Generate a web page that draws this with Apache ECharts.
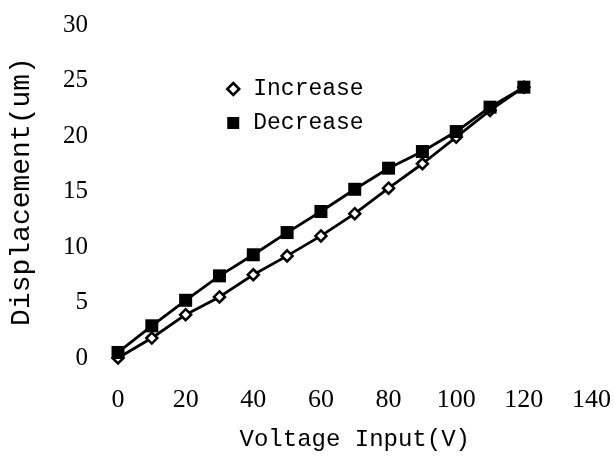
<!DOCTYPE html>
<html>
<head>
<meta charset="utf-8">
<script src="https://cdn.jsdelivr.net/npm/echarts@6/dist/echarts.min.js"></script>
<style>
  html, body { margin: 0; padding: 0; background: #fff; }
  #chart { width: 614px; height: 461px; }
</style>
</head>
<body>
<div id="chart"></div>
<script>
// 电压输入 (V)
var voltage = [0, 10, 20, 30, 40, 50, 60, 70, 80, 90, 100, 110, 120];
// 位移 (um)
var increase = [0, 1.8, 3.9, 5.5, 7.5, 9.2, 11.0, 13.0, 15.3, 17.5, 19.9, 22.3, 24.4];
var decrease = [0.5, 2.9, 5.2, 7.4, 9.3, 11.3, 13.2, 15.2, 17.1, 18.6, 20.4, 22.6, 24.4];

function pairs(xs, ys) {
  return xs.map(function (x, i) { return [x, ys[i]]; });
}

var myChart = echarts.init(document.getElementById('chart'));

myChart.setOption({
  backgroundColor: '#fff',
  animation: false,
  grid: { left: 117, right: 21, top: 25, bottom: 103 },
  legend: {
    orient: 'vertical',
    left: 221,
    top: 72,
    itemWidth: 12,
    itemHeight: 12,
    itemGap: 10,
    textStyle: {
      fontFamily: 'Liberation Mono',
      fontSize: 23,
      lineHeight: 24,
      color: '#000',
      padding: [0, 0, 0, 9]
    },
    data: [
      { name: 'Increase', icon: 'diamond', itemStyle: { color: '#fff', borderColor: '#000', borderWidth: 2.5 } },
      { name: 'Decrease', icon: 'rect', itemStyle: { color: '#000', borderWidth: 0 } }
    ]
  },
  xAxis: {
    type: 'value',
    min: 0,
    max: 140,
    interval: 20,
    name: 'Voltage Input(V)',
    nameLocation: 'middle',
    nameGap: 70,
    nameTextStyle: { fontFamily: 'Liberation Mono', fontSize: 24, color: '#000' },
    axisLine: { show: false },
    axisTick: { show: false },
    splitLine: { show: false },
    axisLabel: { margin: 29, fontFamily: 'Liberation Serif', fontSize: 26, color: '#000' }
  },
  yAxis: {
    type: 'value',
    min: 0,
    max: 30,
    interval: 5,
    name: 'Displacement(um)',
    nameLocation: 'middle',
    nameGap: 82,
    nameTextStyle: { fontFamily: 'Liberation Mono', fontSize: 28, color: '#000' },
    axisLine: { show: false },
    axisTick: { show: false },
    splitLine: { show: false },
    axisLabel: { margin: 30, fontFamily: 'Liberation Serif', fontSize: 25, color: '#000' }
  },
  series: [
    {
      name: 'Increase',
      type: 'line',
      data: pairs(voltage, increase),
      symbol: 'diamond',
      symbolSize: 11,
      lineStyle: { color: '#000', width: 2.8 },
      itemStyle: { color: '#fff', borderColor: '#000', borderWidth: 2.5 },
      z: 2
    },
    {
      name: 'Decrease',
      type: 'line',
      data: pairs(voltage, decrease),
      symbol: 'rect',
      symbolSize: 13,
      lineStyle: { color: '#000', width: 2.8 },
      itemStyle: { color: '#000' },
      z: 3
    }
  ]
});
</script>
</body>
</html>
